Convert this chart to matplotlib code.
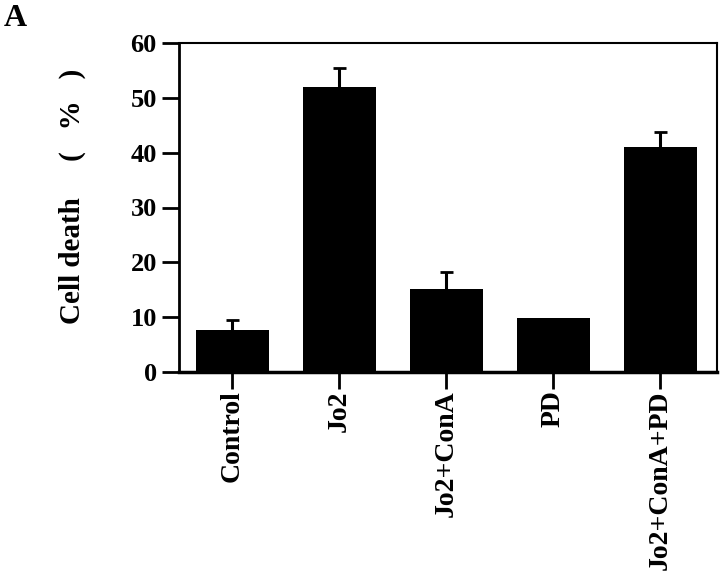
import matplotlib
matplotlib.use("Agg")
import matplotlib.pyplot as plt

# Data
groups = ["Control", "Jo2", "Jo2+ConA", "PD", "Jo2+ConA+PD"]
cell_death = [7.6, 52.0, 15.1, 9.9, 41.1]
err_upper = [1.9, 3.4, 3.2, 0.0, 2.7]
yticks = [0, 10, 20, 30, 40, 50, 60]

plt.rcParams["font.family"] = ["Liberation Serif", "DejaVu Serif"]
plt.rcParams["font.weight"] = "bold"

fig = plt.figure(figsize=(7.2, 5.79), dpi=100)
ax = fig.add_axes([179 / 720, 1 - 372 / 579, 538 / 720, 329 / 579])

x = list(range(len(groups)))
ax.bar(x, cell_death, width=0.68, color="black", zorder=2)

# upper-only "T" error bars, no cap at the bar top
for xi, yi, e in zip(x, cell_death, err_upper):
    if e <= 0:
        continue
    ax.vlines(xi, yi, yi + e, color="black", linewidth=2.2, zorder=1)
    ax.hlines(yi + e, xi - 0.06, xi + 0.06, color="black", linewidth=2, zorder=1)

ax.set_xlim(-0.5, 4.53)
ax.set_ylim(0, 60)
ax.set_yticks(yticks)
ax.set_yticklabels([str(t) for t in yticks], fontsize=19, fontweight="bold")
ax.set_xticks(x)
ax.set_xticklabels(groups, rotation=90, fontsize=20, fontweight="bold")
ax.tick_params(axis="y", direction="out", length=12, width=2, pad=4)
ax.tick_params(axis="x", direction="out", length=12, width=2, pad=1)
for s in ax.spines.values():
    s.set_linewidth(1.5)
ax.spines["left"].set_linewidth(2)
ax.spines["bottom"].set_linewidth(2.5)

fig.text(72 / 720, 1 - 196 / 579, "Cell death     (   %   )", rotation=90,
         fontsize=21, fontweight="bold", ha="center", va="center")
fig.text(15 / 720, 1 - 19 / 579, "A", fontsize=23, fontweight="bold",
         ha="center", va="center")

fig.savefig("out.png", dpi=100)
